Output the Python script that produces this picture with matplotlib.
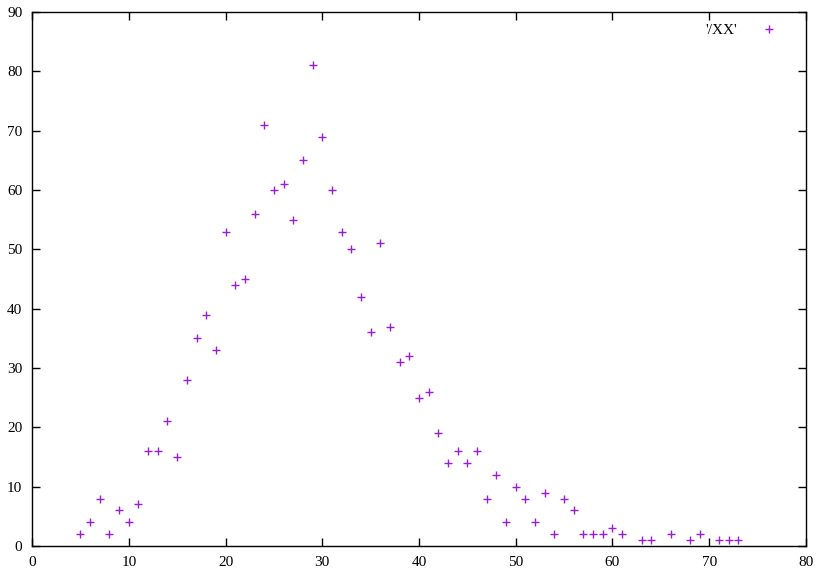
import matplotlib
matplotlib.use("Agg")
import matplotlib.pyplot as plt

# values (gnuplot style scatter)
xs = [5, 6, 7, 8, 9, 10, 11, 12, 13, 14, 15, 16, 17, 18, 19, 20, 21, 22, 23, 24,
      25, 26, 27, 28, 29, 30, 31, 32, 33, 34, 35, 36, 37, 38, 39, 40, 41, 42, 43, 44,
      45, 46, 47, 48, 49, 50, 51, 52, 53, 54, 55, 56, 57, 58, 59, 60, 61, 63, 64, 66,
      68, 69, 71, 72, 73]
counts = [2, 4, 8, 2, 6, 4, 7, 16, 16, 21, 15, 28, 35, 39, 33, 53, 44, 45, 56, 71,
          60, 61, 55, 65, 81, 69, 60, 53, 50, 42, 36, 51, 37, 31, 32, 25, 26, 19, 14, 16,
          14, 16, 8, 12, 4, 10, 8, 4, 9, 2, 8, 6, 2, 2, 2, 3, 2, 1, 1, 2,
          1, 2, 1, 1, 1]
xticks = list(range(0, 81, 10))
yticks = list(range(0, 91, 10))

plt.rcParams['font.family'] = ['Liberation Serif', 'DejaVu Serif']

fig = plt.figure(figsize=(8.22, 5.81), dpi=100)
ax = fig.add_axes([0.039, 0.0602, 0.9415, 0.919])
ax.plot(xs, counts, linestyle='none', marker='+', color='#9a1ed8',
        markersize=6, markeredgewidth=1.0, label="'/XX'")
ax.set_xlim(0, 80)
ax.set_ylim(0, 90)
ax.set_xticks(xticks)
ax.set_yticks(yticks)
ax.tick_params(direction='in', length=5.5, width=1, top=True, right=True,
               labelsize=11, pad=7)
for s in ax.spines.values():
    s.set_linewidth(1)
ax.legend(loc='upper right', frameon=False, markerfirst=False, fontsize=11,
          handlelength=2.5, borderaxespad=0.6, bbox_to_anchor=(0.9961, 1.0075))
fig.savefig('out.png', dpi=100)
